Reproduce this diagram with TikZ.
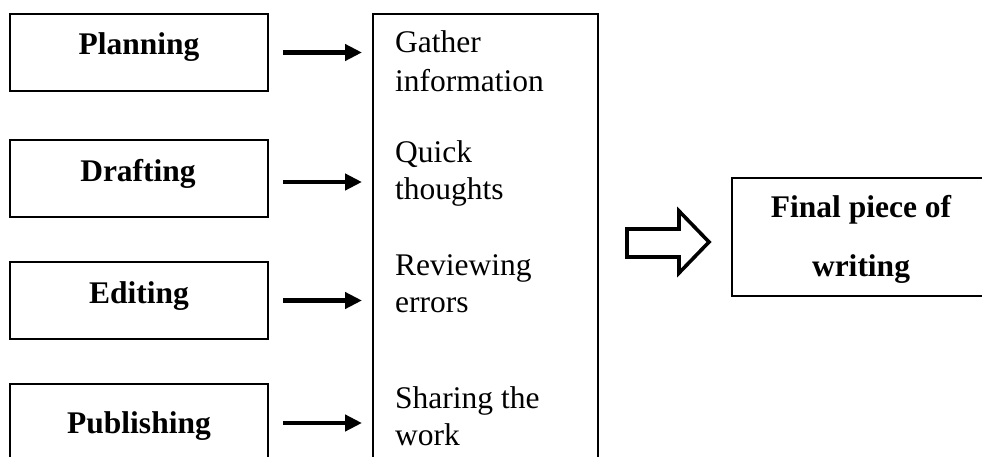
\documentclass[tikz,border=0pt]{standalone}
\usepackage{fontspec}
\setmainfont{Liberation Serif}
\usetikzlibrary{arrows.meta}
\begin{document}
\begin{tikzpicture}[x=1pt,y=-1pt,
  box/.style={draw, line width=1.8pt, outer sep=0pt, inner sep=0pt},
  lab/.style={font=\fontsize{31.5}{37.5}\selectfont\bfseries, anchor=base, inner sep=0pt},
  txt/.style={font=\fontsize{31.5}{37.5}\selectfont, anchor=base west, inner sep=0pt},
  arr/.style={line width=4.5pt, -{Triangle[length=17pt,width=16pt]}, shorten <=15pt, shorten >=11pt},
  hollow/.style={draw, line width=3.6pt, line join=miter, fill=white}]
\useasboundingbox (0,0) rectangle (982,457);
\clip (0,0) rectangle (982,457);
% left boxes
\node[box, minimum width=258pt, minimum height=77pt] (plan)  at (139,52.5) {};
\node[box, minimum width=258pt, minimum height=77pt] (draft) at (139,178.5) {};
\node[box, minimum width=258pt, minimum height=77pt] (edit)  at (139,300.5) {};
\node[box, minimum width=258pt, minimum height=78pt] (pub)   at (139,423) {};
\node[lab] (planT)  at (139,55)  {Planning};
\node[lab] (draftT) at (138,182) {Drafting};
\node[lab] (editT)  at (139,303) {Editing};
\node[lab] (pubT)   at (139,433) {Publishing};
% tall box
\node[box, minimum width=225pt, minimum height=470pt] (tall) at (485.5,249) {};
\node[txt] (t1a) at (395,53)  {Gather};
\node[txt] (t1b) at (395,92)  {information};
\node[txt] (t2a) at (395,163) {Quick};
\node[txt] (t2b) at (395,200) {thoughts};
\node[txt] (t3a) at (395,275) {Reviewing};
\node[txt] (t3b) at (395,312) {errors};
\node[txt] (t4a) at (395,408) {Sharing the};
\node[txt] (t4b) at (395,445) {work};
% arrows
\draw[arr] (plan.east) -- (plan.east -| tall.west);
\draw[arr] ([yshift=-3.5pt]draft.east) -- ([yshift=-3.5pt]draft.east -| tall.west);
\draw[arr] (edit.east) -- (edit.east -| tall.west);
\draw[arr] (pub.east) -- (pub.east -| tall.west);
% final box
\node[box, minimum width=270pt, minimum height=118pt] (final) at (867,237) {};
\node[lab] (f1) at (861,218) {Final piece of};
\node[lab] (f2) at (861,276) {writing};
% hollow arrow
\draw[hollow] (627,229) -- (679,229) -- (679,211) -- (709,242) -- (679,273) -- (679,257) -- (627,257) -- cycle;
\end{tikzpicture}
\end{document}
